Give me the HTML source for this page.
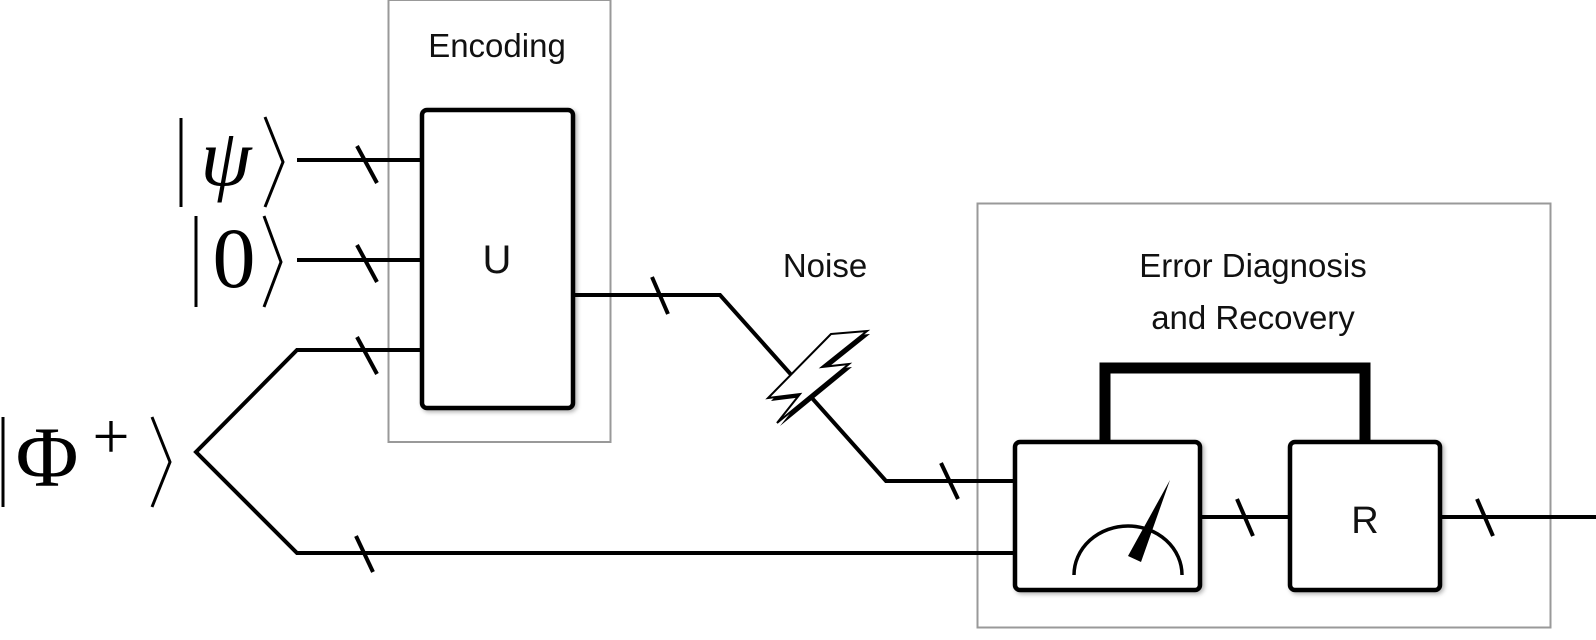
<!DOCTYPE html>
<html><head><meta charset="utf-8"><style>html,body{margin:0;padding:0;background:#fff}svg{display:block}</style></head>
<body>
<svg width="1596" height="640" viewBox="0 0 1596 640" xmlns="http://www.w3.org/2000/svg">
<rect width="1596" height="640" fill="#fff"/>
<rect x="388.5" y="0" width="222" height="442" fill="none" stroke="#999" stroke-width="2"/>
<rect x="977.5" y="203.5" width="573" height="424" fill="none" stroke="#999" stroke-width="2"/>
<g font-family="Liberation Sans, sans-serif" fill="#111" text-anchor="middle">
<text x="497" y="57" font-size="33">Encoding</text>
<text x="825" y="277" font-size="33">Noise</text>
<text x="1253" y="277" font-size="33">Error Diagnosis</text>
<text x="1253" y="329" font-size="33">and Recovery</text>
</g>
<g stroke="#000" stroke-width="4" fill="none" stroke-linejoin="miter">
<line x1="297" y1="160" x2="422" y2="160"/>
<line x1="297" y1="260" x2="422" y2="260"/>
<polyline points="422,350 297,350 196,452 297,553 1015,553"/>
<polyline points="573,295 720,295 886,481 1015,481"/>
<line x1="1200" y1="517" x2="1290" y2="517"/>
<line x1="1440" y1="517" x2="1596" y2="517"/>
<line x1="357" y1="146" x2="377" y2="183"/>
<line x1="357" y1="245" x2="377" y2="282"/>
<line x1="357" y1="337" x2="377" y2="374"/>
<line x1="356" y1="536" x2="373" y2="572"/>
<line x1="652" y1="277" x2="668" y2="314"/>
<line x1="941" y1="463" x2="958" y2="499"/>
<line x1="1237" y1="499" x2="1253" y2="536"/>
<line x1="1477" y1="499" x2="1493" y2="536"/>
<polyline points="1105,444 1105,368 1365,368 1365,444" stroke-width="11"/>
</g>
<g fill="#fff" stroke="#000" stroke-width="4.5">
<rect x="422" y="110" width="151" height="298" rx="5" style="filter:drop-shadow(2px 2px 2px rgba(0,0,0,.3))"/>
<rect x="1015" y="442" width="185" height="148" rx="5" style="filter:drop-shadow(2px 2px 2px rgba(0,0,0,.3))"/>
<rect x="1290" y="442" width="150" height="148" rx="5" style="filter:drop-shadow(2px 2px 2px rgba(0,0,0,.3))"/>
</g>
<g font-family="Liberation Sans, sans-serif" fill="#111" text-anchor="middle">
<text x="497" y="273" font-size="40">U</text>
<text x="1365" y="533" font-size="38">R</text>
</g>
<path d="M1074,575 A54,49 0 0 1 1182,575" fill="none" stroke="#000" stroke-width="3.5"/>
<polygon points="1170,480 1128,556 1141,562" fill="#000"/>
<polygon points="831,334 867,331 822,367 849,364 777,423 800,394 768,398" fill="#000" transform="translate(3,3)"/>
<polygon points="831,334 867,331 822,367 849,364 777,423 800,394 768,398" fill="#fff" stroke="#000" stroke-width="2"/>
<g stroke="#000" stroke-width="3" fill="none">
<line x1="181" y1="118" x2="181" y2="207"/>
<polyline points="265,117 283,162 265,207"/>
<line x1="196" y1="216" x2="196" y2="307"/>
<polyline points="264,216 281,262 264,307"/>
<line x1="3" y1="417" x2="3" y2="507"/>
<polyline points="152,417 170,462 152,507"/>
</g>
<g font-family="Liberation Serif, serif" fill="#000" text-anchor="middle">
<text x="226" y="185" font-size="82" font-style="italic">ψ</text>
<text x="234" y="287" font-size="86">0</text>
<text x="47" y="486" font-size="86">Φ</text>
<text x="111" y="458" font-size="66">+</text>
</g>
</svg>
</body></html>
